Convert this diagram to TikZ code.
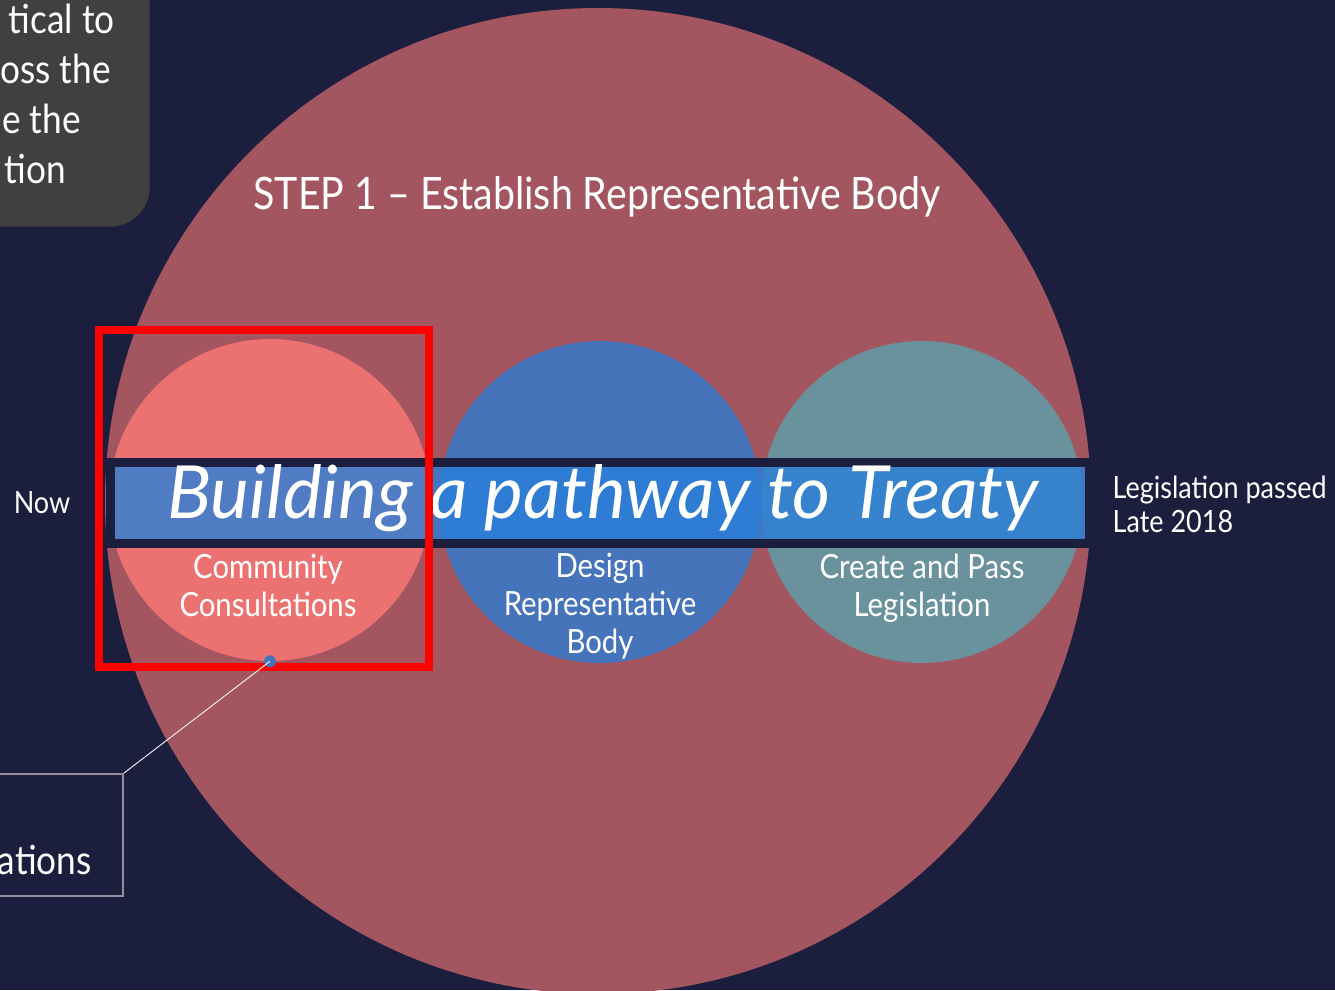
\documentclass[tikz,border=0pt]{standalone}
\usepackage{fontspec}
\setmainfont{Lato}[FakeStretch=0.88]
\newfontfamily\bannerfont{Lato}
\usetikzlibrary{positioning}

\definecolor{navy}{RGB}{28,30,62}
\definecolor{stepred}{RGB}{163,85,96}
\definecolor{salmon}{RGB}{236,114,114}
\definecolor{design}{RGB}{70,116,187}
\definecolor{teal}{RGB}{106,146,156}
\definecolor{banner}{RGB}{41,127,217}
\definecolor{notegray}{RGB}{64,64,64}
\definecolor{boxline}{RGB}{150,140,160}

\tikzset{
  stage/.style={circle,minimum size=241.5pt,inner sep=0pt},
  stagetext/.style={text=white,align=center,font=\fontsize{25}{28.5}\selectfont},
  sidetext/.style={text=white,align=left,font=\fontsize{23}{25.5}\selectfont},
  bigtext/.style={text=white,font=\fontsize{30}{37.5}\selectfont},
}

\begin{document}
\begin{tikzpicture}[x=0.75pt,y=-0.75pt]
      \useasboundingbox (0,0) rectangle (1335,990);
      \fill[navy] (0,0) rectangle (1335,990);

      \fill[stepred] (598,501) circle[radius=493];

      \node[fill=notegray,rounded corners=30pt,minimum width=300pt,minimum height=225pt,anchor=south east] (note) at (150,227) {};
      \foreach \line/\xend/\ybase in {tical to/115/33,oss the/111/83,e the/81/133,tion/66/183} {
        \node[bigtext,anchor=base east,inner sep=0pt] at (\xend,\ybase) {\line};
      }

      \node[stage,fill=salmon] (consult) at (270,500) {};
      \node[stage,fill=design] (design) at (600,502) {};
      \node[stage,fill=teal] (legis) at (922,502) {};

      \node[fill=banner,fill opacity=0.8,draw=navy,line width=6.75pt,minimum width=734.25pt,minimum height=60.75pt,inner sep=0pt] (path) at (600,503) {};
      \node[text=white,font=\fontsize{55}{60}\bannerfont\itshape\selectfont] (pathtext) at (603,498) {Building a pathway to Treaty};

      \node[stagetext] (consulttext) at (268,585) {Community\\Consultations};
      \node[stagetext] (designtext) at (600,606) {Design\\Representative\\Body};
      \node[stagetext] (legistext) at (922,588) {Create and Pass\\Legislation};

      \node[text=white,font=\fontsize{33.5}{40}\selectfont] (step) at (597,197) {STEP 1 -- Establish Representative Body};

      \node[sidetext] (now) at (42,503) {Now};
      \node[sidetext,anchor=west] (late) at (1108,504) {Legislation passed\\Late 2018};

      % highlight
      \draw[red,line width=6pt] (99,330) rectangle (429,667);

      \node[draw=boxline,line width=1.5pt,minimum width=225pt,minimum height=91.5pt,anchor=north east] (detail) at (124,773) {};
      \node[bigtext,anchor=base east,inner sep=0pt] (detailtext) at (92,874) {ations};
      \fill[design] (consult.south) circle[radius=6] coordinate (dot);
      \draw[white!90!gray,line width=0.7pt] (dot) -- (detail.north east);
    \end{tikzpicture}
\end{document}
